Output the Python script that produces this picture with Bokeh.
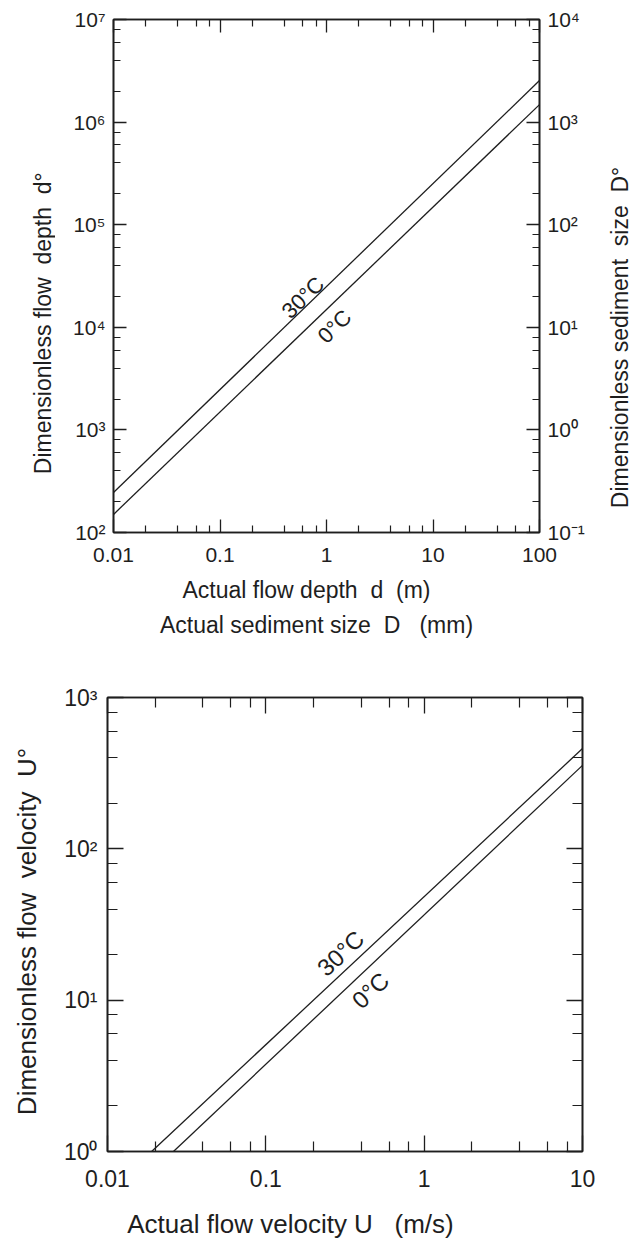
import math
from bokeh.plotting import figure
from bokeh.models import (LogAxis, FixedTicker, Range1d, LogScale, Label,
                          CustomJSTickFormatter)
from bokeh.layouts import column, row
from bokeh.embed import file_html
from bokeh.resources import INLINE

FONT = "Liberation Sans"
INK = "#1e1e1e"

# ---------------- data: top chart (flow depth / sediment size) ----------------
depth_ticks = [0.01, 0.1, 1, 10, 100]
depth_tick_labels = ["0.01", "0.1", "1", "10", "100"]
d0_ticks = [1e2, 1e3, 1e4, 1e5, 1e6, 1e7]
d0_tick_labels = ["10²", "10³", "10⁴", "10⁵", "10⁶", "10⁷"]
D0_ticks = [1e-1, 1e0, 1e1, 1e2, 1e3, 1e4]
D0_tick_labels = ["10⁻¹", "10⁰", "10¹", "10²", "10³", "10⁴"]

depth_x = [0.01, 100]
depth_30C = [245, 2.54e6]
depth_0C = [150, 1.48e6]

# ---------------- data: bottom chart (flow velocity) ----------------
vel_ticks = [0.01, 0.1, 1, 10]
vel_tick_labels = ["0.01", "0.1", "1", "10"]
U0_ticks = [1, 10, 100, 1000]
U0_tick_labels = ["10⁰", "10¹", "10²", "10³"]

vel_x_30C = [0.019, 10]
vel_30C = [1, 460]
vel_x_0C = [0.0261, 10]
vel_0C = [1, 356]

NB = "\u00a0"


def minor_of(ticks):
    out = []
    for t in ticks[:-1]:
        for m in (2, 4, 6, 8):
            out.append(t * m)
    return out


def fmt_for(ticks, labels):
    return CustomJSTickFormatter(args=dict(vals=ticks, labs=labels), code="""
        for (let i = 0; i < vals.length; i++) {
            if (Math.abs(Math.log10(vals[i]) - Math.log10(tick)) < 1e-6) return labs[i];
        }
        return "";
    """)


def style_axis(ax, ticks, labels, fs, standoff, maj_in, min_in, show=True):
    ax.ticker = FixedTicker(ticks=ticks, minor_ticks=minor_of(ticks))
    ax.formatter = fmt_for(ticks, labels)
    ax.axis_line_color = INK
    ax.axis_line_width = 1.6
    ax.major_tick_in = maj_in
    ax.major_tick_out = 0
    ax.minor_tick_in = min_in
    ax.minor_tick_out = 0
    ax.major_tick_line_color = INK
    ax.minor_tick_line_color = INK
    ax.major_tick_line_width = 1.3
    ax.minor_tick_line_width = 1.2
    if show:
        ax.major_label_text_font = FONT
        ax.major_label_text_font_size = fs
        ax.major_label_text_color = INK
        ax.major_label_standoff = standoff
    else:
        ax.major_label_text_font_size = "1px"
        ax.major_label_text_color = None
        ax.major_label_standoff = 0


def base_fig(w, h, xr, yr, bl, br, bt, bb):
    p = figure(width=w, height=h, x_axis_type="log", y_axis_type="log",
               x_range=Range1d(*xr), y_range=Range1d(*yr),
               output_backend="svg", toolbar_location=None,
               min_border_left=bl, min_border_right=br,
               min_border_top=bt, min_border_bottom=bb)
    p.grid.visible = False
    p.outline_line_color = INK
    p.outline_line_width = 1.6
    p.background_fill_color = "white"
    p.border_fill_color = "white"
    return p


def text_fig(w, h):
    """A blank panel whose frame is the whole canvas; data units = pixels (y down)."""
    t = figure(width=w, height=h, x_range=Range1d(0, w), y_range=Range1d(h, 0),
               x_axis_location=None, y_axis_location=None,
               output_backend="svg", toolbar_location=None, min_border=0)
    t.grid.visible = False
    t.outline_line_color = None
    t.background_fill_color = "white"
    t.border_fill_color = "white"
    return t


def add_label(p, text, x, y, fs, angle=0.0):
    p.add_layout(Label(x=x, y=y, text=text, angle=angle,
                       text_align="center", text_baseline="middle",
                       text_font=FONT, text_font_size=fs, text_color=INK))


# ================= top figure =================
TOP_H = 576
p1 = base_fig(545, TOP_H, (0.01, 100), (1e2, 1e7), 58, 61, 19, TOP_H - 532)
style_axis(p1.xaxis[0], depth_ticks, depth_tick_labels, "21px", 15, 13, 7)
style_axis(p1.yaxis[0], d0_ticks, d0_tick_labels, "21px", 8, 13, 7)

top1 = LogAxis()
style_axis(top1, depth_ticks, depth_tick_labels, "1px", 0, 13, 7, show=False)
p1.add_layout(top1, "above")

p1.extra_y_ranges = {"sed": Range1d(1e-1, 1e4)}
p1.extra_y_scales = {"sed": LogScale()}
right1 = LogAxis(y_range_name="sed")
style_axis(right1, D0_ticks, D0_tick_labels, "21px", 8, 13, 7)
p1.add_layout(right1, "right")

p1.line(depth_x, depth_30C, line_width=1.3, line_color=INK)
p1.line(depth_x, depth_0C, line_width=1.3, line_color=INK)

ang1 = math.radians(44)
add_label(p1, "30°C", 0.6, 1.95e4, "22px", ang1)
add_label(p1, "0°C", 1.19, 1.02e4, "22px", ang1)

p1L = text_fig(55, TOP_H)
add_label(p1L, f"Dimensionless flow{NB}{NB}depth{NB}{NB}d°", 42, 341, "23px", math.pi / 2)
p1R = text_fig(32, TOP_H)
add_label(p1R, f"Dimensionless sediment{NB}{NB}size{NB}{NB}D°", 19, 357, "23px", math.pi / 2)

T1 = text_fig(632, 650 - TOP_H)
add_label(T1, f"Actual flow depth{NB}{NB}d{NB}{NB}(m)", 306, 589 - TOP_H, "23px")
add_label(T1, f"Actual sediment size{NB}{NB}D{NB}{NB}{NB}(mm)", 316, 624 - TOP_H, "23px")

# ================= bottom figure =================
BOT_H = 551
p2 = base_fig(582, BOT_H, (0.01, 10), (1, 1000), 57, 50, 47, 50)
style_axis(p2.xaxis[0], vel_ticks, vel_tick_labels, "23px", 18, 16, 10)
style_axis(p2.yaxis[0], U0_ticks, U0_tick_labels, "23px", 10, 16, 10)

top2 = LogAxis()
style_axis(top2, vel_ticks, vel_tick_labels, "1px", 0, 16, 10, show=False)
p2.add_layout(top2, "above")
right2 = LogAxis()
style_axis(right2, U0_ticks, U0_tick_labels, "1px", 0, 16, 10, show=False)
p2.add_layout(right2, "right")

p2.line(vel_x_30C, vel_30C, line_width=1.3, line_color=INK)
p2.line(vel_x_0C, vel_0C, line_width=1.3, line_color=INK)

ang2 = math.radians(43)
add_label(p2, "30°C", 0.296, 20.4, "24px", ang2)
add_label(p2, "0°C", 0.458, 11.6, "24px", ang2)

p2L = text_fig(50, BOT_H)
add_label(p2L, f"Dimensionless flow{NB}{NB}velocity{NB}{NB}U°", 26, 934 - 650, "26px", math.pi / 2)

T2 = text_fig(632, 1241 - 650 - BOT_H)
add_label(T2, f"Actual flow velocity U{NB}{NB}{NB}(m/s)", 290, 1223 - 650 - BOT_H, "26px")

layout = column(
    row(p1L, p1, p1R, spacing=0),
    T1,
    row(p2L, p2, spacing=0),
    T2,
    spacing=0,
)
open("out.html", "w").write(file_html(layout, INLINE))
